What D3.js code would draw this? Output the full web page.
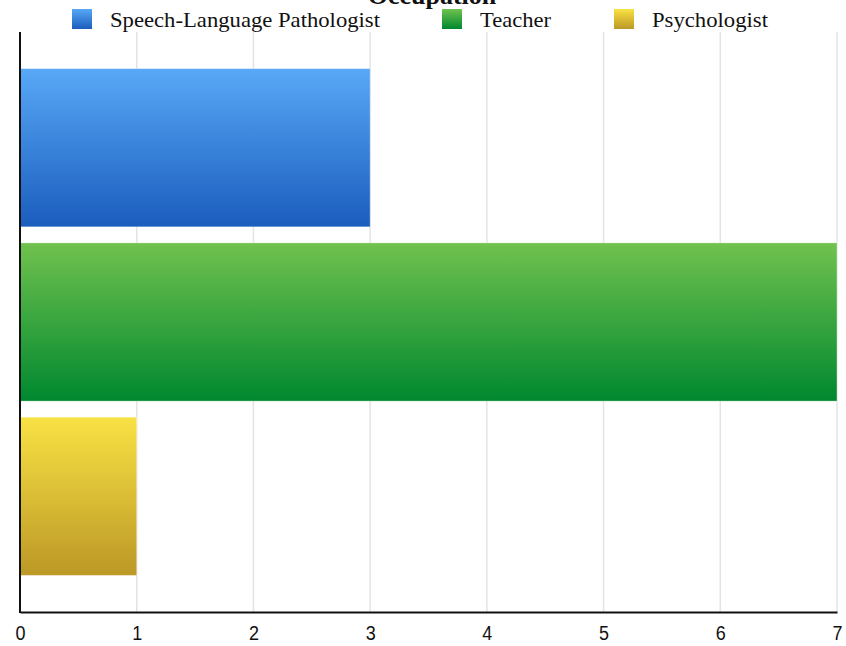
<!DOCTYPE html>
<html>
<head>
<meta charset="utf-8">
<script src="https://cdn.jsdelivr.net/npm/d3@7"></script>
<style>
  body { margin: 0; background: #fff; }
  svg { display: block; }
</style>
</head>
<body>
<div id="chart"></div>
<script>
// chart data
var categories = ["Speech-Language Pathologist", "Teacher", "Psychologist"];
var values = [3, 7, 1];
var tickValues = [0, 1, 2, 3, 4, 5, 6, 7];
var title = "Occupation";
var gradients = [
  ["#58a8f7", "#1b5dbd"],
  ["#70c24e", "#00882f"],
  ["#f9e244", "#bc9826"]
];

var width = 846, height = 646;
var margin = { top: 32, right: 9, bottom: 34, left: 20 };

var svg = d3.select("#chart").append("svg")
  .attr("width", width)
  .attr("height", height);

var defs = svg.append("defs");
gradients.forEach(function (g, i) {
  var lg = defs.append("linearGradient")
    .attr("id", "grad" + i)
    .attr("x1", 0).attr("y1", 0).attr("x2", 0).attr("y2", 1);
  lg.append("stop").attr("offset", "0%").attr("stop-color", g[0]);
  lg.append("stop").attr("offset", "100%").attr("stop-color", g[1]);
});

var x = d3.scaleLinear()
  .domain([0, 7])
  .range([margin.left, width - margin.right]);

var y = d3.scaleBand()
  .domain(categories)
  .range([margin.top, height - margin.bottom])
  .paddingInner(0.092)
  .paddingOuter(0.21);

// grid
svg.append("g")
  .selectAll("line")
  .data(tickValues.slice(1))
  .enter().append("line")
  .attr("x1", function (d) { return x(d); })
  .attr("x2", function (d) { return x(d); })
  .attr("y1", margin.top)
  .attr("y2", height - margin.bottom)
  .attr("stroke", "#e4e4e4")
  .attr("stroke-width", 1.5);

// bars
svg.append("g")
  .selectAll("rect")
  .data(values)
  .enter().append("rect")
  .attr("x", x(0))
  .attr("y", function (d, i) { return y(categories[i]); })
  .attr("width", function (d) { return x(d) - x(0); })
  .attr("height", y.bandwidth())
  .attr("fill", function (d, i) { return "url(#grad" + i + ")"; })
  .attr("stroke", "rgba(255,255,255,0.35)")
  .attr("stroke-width", 1);

// axes
var xAxis = d3.axisBottom(x)
  .tickValues(tickValues)
  .tickSize(0)
  .tickPadding(14)
  .tickFormat(d3.format("d"));

var gx = svg.append("g")
  .attr("transform", "translate(0," + (height - margin.bottom) + ")")
  .call(xAxis);
gx.select(".domain").attr("stroke", "#111").attr("stroke-width", 2);
gx.selectAll("text")
  .attr("fill", "#111")
  .attr("textLength", 10)
  .attr("lengthAdjust", "spacingAndGlyphs")
  .style("font-family", "'Liberation Sans', Arial, sans-serif")
  .style("font-size", "20px");

svg.append("line")
  .attr("x1", x(0)).attr("x2", x(0))
  .attr("y1", margin.top).attr("y2", height - margin.bottom + 1)
  .attr("stroke", "#111")
  .attr("stroke-width", 2);

// title (clipped at the top)
svg.append("text")
  .attr("x", 432)
  .attr("y", 4)
  .attr("text-anchor", "middle")
  .style("font-family", "'Liberation Serif', serif")
  .style("font-size", "26px")
  .style("font-weight", "bold")
  .attr("fill", "#111")
  .text(title);

// legend
var legendX = [72, 442, 614];
var legendTextWidth = [270, 71, 116];
var legend = svg.append("g")
  .selectAll("g")
  .data(categories)
  .enter().append("g")
  .attr("transform", function (d, i) { return "translate(" + legendX[i] + ",9)"; });

legend.append("rect")
  .attr("width", 20)
  .attr("height", 20)
  .attr("fill", function (d, i) { return "url(#grad" + i + ")"; });

legend.append("text")
  .attr("x", 38)
  .attr("y", 18)
  .attr("textLength", function (d, i) { return legendTextWidth[i]; })
  .attr("lengthAdjust", "spacingAndGlyphs")
  .style("font-family", "'Liberation Serif', serif")
  .style("font-size", "22px")
  .attr("fill", "#111")
  .text(function (d) { return d; });
</script>
</body>
</html>
